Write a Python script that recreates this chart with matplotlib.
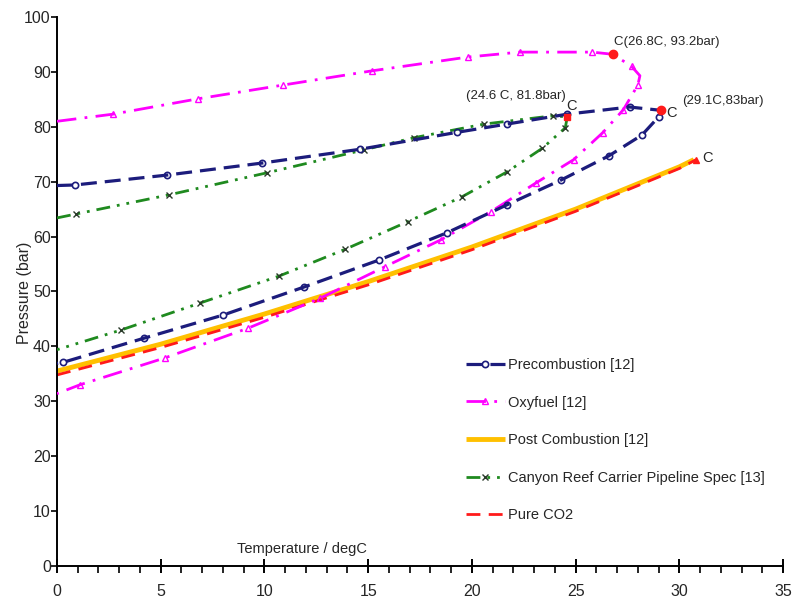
#! /usr/bin/env python

import matplotlib
matplotlib.use('Agg')
import matplotlib.pyplot as plt
from matplotlib.ticker import MultipleLocator

plt.rcParams['font.family'] = ['Liberation Sans', 'DejaVu Sans']

# Phase envelopes (T in degC, P in bar)
pre_T = [0, 0.87, 5.3, 9.9, 14.6, 19.3, 21.7, 24.6, 27.6, 29.1, 29.0, 28.2,
         26.6, 24.3, 21.7, 18.8, 15.5, 11.9, 8.0, 4.2, 0.3, 0]
pre_P = [69.3, 69.4, 71.2, 73.4, 75.9, 79.0, 80.5, 82.3, 83.6, 83.0, 81.8, 78.5,
         74.7, 70.3, 65.8, 60.7, 55.7, 50.8, 45.7, 41.5, 37.1, 36.9]

oxy_T = [0, 2.7, 6.8, 10.9, 15.2, 19.8, 22.3, 25.8, 26.8, 27.7, 28.1, 28.0,
         27.3, 26.3, 24.9, 23.1, 20.9, 18.5, 15.8, 12.7, 9.2, 5.2, 1.1, 0]
oxy_P = [81.0, 82.3, 85.1, 87.6, 90.2, 92.7, 93.6, 93.6, 93.2, 91.0, 89.3, 87.6,
         83.1, 78.9, 74.0, 69.8, 64.5, 59.4, 54.5, 48.8, 43.3, 37.9, 33.0, 31.4]

post_T = [0, 5, 10, 15, 20, 25, 30, 30.7]
post_P = [35.5, 40.4, 45.9, 51.8, 58.1, 65.0, 72.7, 74.0]

crc_T = [0, 0.9, 5.4, 10.1, 14.8, 17.2, 20.6, 23.9, 24.6, 24.5, 23.4, 21.7,
         19.5, 16.9, 13.9, 10.7, 6.9, 3.1, 0]
crc_P = [63.4, 64.1, 67.6, 71.6, 75.8, 78.0, 80.5, 82.0, 81.8, 79.8, 76.1, 71.8,
         67.2, 62.7, 57.7, 52.8, 47.9, 43.0, 39.4]

co2_T = [0, 5, 10, 15, 20, 25, 30, 30.8]
co2_P = [34.8, 39.8, 45.3, 51.2, 57.6, 64.6, 72.4, 74.0]

# critical points
crit_T = [26.8, 29.1, 24.6, 30.8]
crit_P = [93.2, 83.0, 81.8, 74.0]

navy = '#1c1c7c'
magenta = '#ff00ff'
green = '#1f8a1f'
gold = '#ffc000'
red = '#ff1a1a'
txt = '#262626'

fig = plt.figure(figsize=(7.94, 6.02), dpi=100)
ax = fig.add_axes([0.0718, 0.0598, 0.9144, 0.912])

ax.plot(pre_T, pre_P, color=navy, lw=2.3, ls=(0, (5, 2.5)),
        marker='o', ms=4.5, mfc='none', mew=1.2,
        markevery=[i for i in range(1, len(pre_T) - 1) if i != 9],
        label='Precombustion [12]', zorder=4)
ax.plot(oxy_T, oxy_P, color=magenta, lw=2.0, ls=(0, (7, 3, 1, 3)),
        marker='^', ms=5, mfc='none', mew=1.0,
        markevery=[i for i in range(1, len(oxy_T) - 1) if i not in (8, 10)],
        label='Oxyfuel [12]', zorder=3)
ax.plot(post_T, post_P, color=gold, lw=3.5, solid_capstyle='butt',
        label='Post Combustion [12]', zorder=2)
ax.plot(crc_T, crc_P, color=green, lw=2.0, ls=(0, (5, 2.5, 1, 2.5, 1, 2.5)),
        marker='x', ms=5, mec='#2a3a2a', mew=1.0,
        markevery=[i for i in range(1, len(crc_T) - 1) if i != 8],
        label='Canyon Reef Carrier Pipeline Spec [13]', zorder=3)
ax.plot(co2_T, co2_P, color=red, lw=2.0, ls=(0, (5, 3)),
        label='Pure CO2', zorder=2)

ax.plot(crit_T[:2], crit_P[:2], ls='none', marker='o', ms=6, color=red, zorder=6)
ax.plot(crit_T[2:3], crit_P[2:3], ls='none', marker='s', ms=4, color=red, zorder=6)
ax.plot(crit_T[3:], crit_P[3:], ls='none', marker='^', ms=4, color=red, zorder=6)

fs = 10.5
afs = 9.5
ax.text(26.86, 95.4, 'C(26.8C, 93.2bar)', fontsize=afs, color=txt, va='center')
ax.text(19.72, 85.6, '(24.6 C, 81.8bar)', fontsize=afs, color=txt, va='center')
ax.text(24.55, 83.8, 'C', fontsize=afs + 1, color=txt, va='center')
ax.text(29.36, 82.5, 'C', fontsize=afs + 1, color=txt, va='center')
ax.text(30.13, 84.7, '(29.1C,83bar)', fontsize=afs, color=txt, va='center')
ax.text(31.1, 74.3, 'C', fontsize=afs + 1, color=txt, va='center')
ax.text(8.68, 3.1, 'Temperature / degC', fontsize=fs, color=txt, va='center')

ax.set_xlim(0, 35)
ax.set_ylim(0, 100)
ax.xaxis.set_major_locator(MultipleLocator(5))
ax.xaxis.set_minor_locator(MultipleLocator(1))
ax.yaxis.set_major_locator(MultipleLocator(10))
fig.text(25 / 794, 1 - 293 / 602, 'Pressure (bar)', fontsize=11.5, color=txt,
         rotation=90, ha='center', va='center')

for side in ('top', 'right'):
    ax.spines[side].set_visible(False)
for side in ('left', 'bottom'):
    ax.spines[side].set_linewidth(1.4)
ax.tick_params(axis='x', which='major', direction='inout', length=10, width=1.4,
               pad=8, labelsize=11.5, labelcolor=txt)
ax.tick_params(axis='x', which='minor', direction='out', length=5, width=1.2)
ax.tick_params(axis='y', which='major', direction='out', length=4, width=1.2,
               pad=0.5, labelsize=11.5, labelcolor=txt)

ax.legend(loc='upper left', bbox_to_anchor=(0.563, 0.379), frameon=False,
          fontsize=fs, handlelength=2.7, handletextpad=0.2, labelspacing=1.62,
          borderpad=0, borderaxespad=0, labelcolor=txt)

fig.savefig('out.png', dpi=100)
